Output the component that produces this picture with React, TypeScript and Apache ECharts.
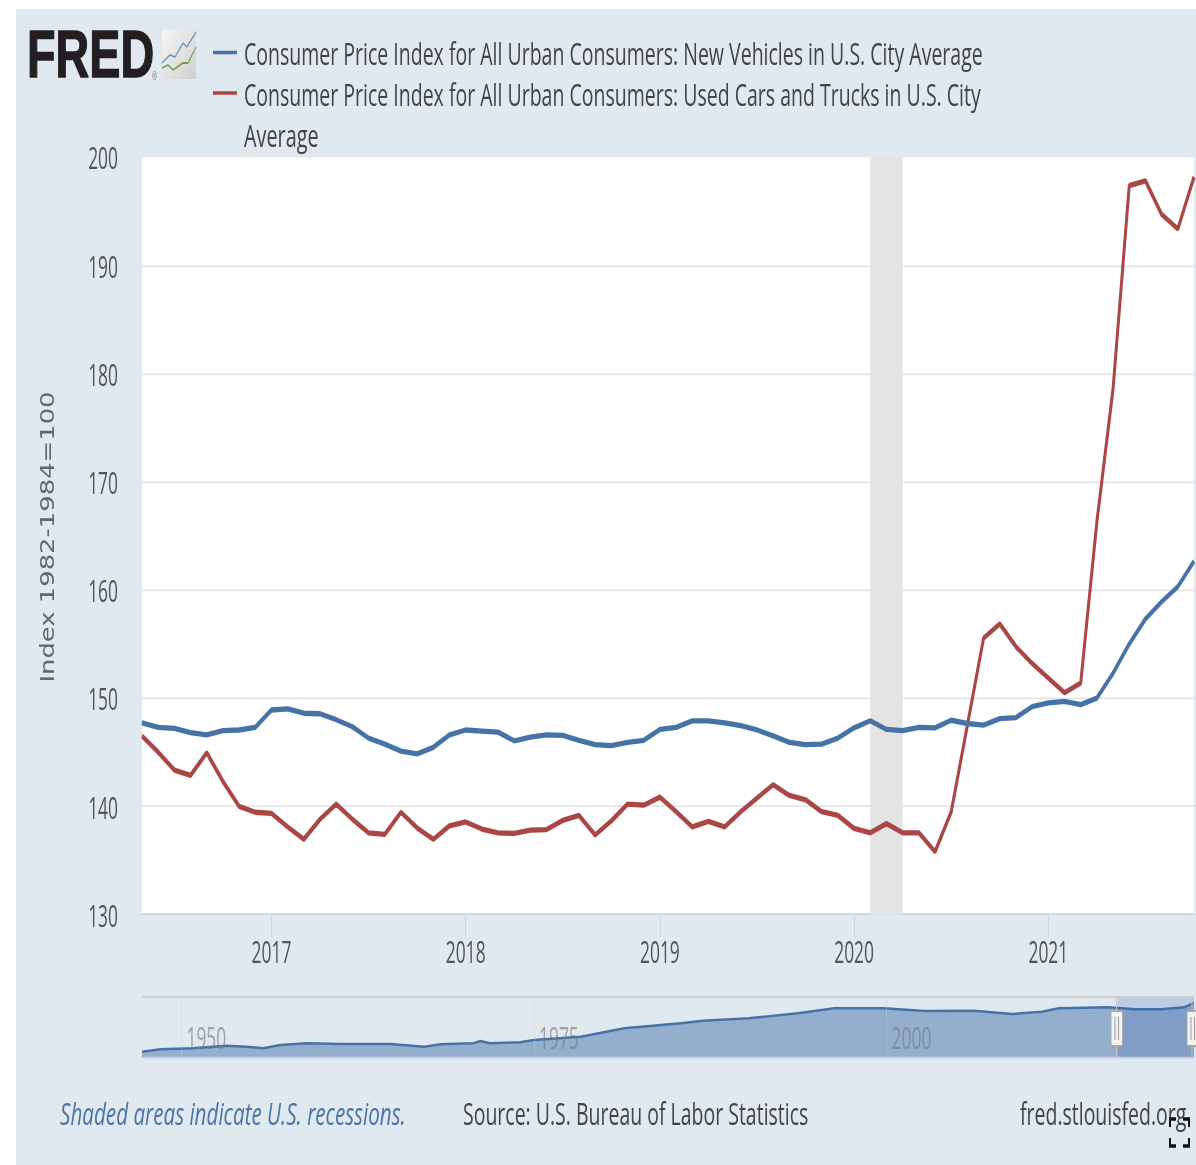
import React, { useEffect, useRef } from "react";
import * as echarts from "echarts";

const months = [
  "2016-05","2016-06","2016-07","2016-08","2016-09","2016-10","2016-11","2016-12",
  "2017-01","2017-02","2017-03","2017-04","2017-05","2017-06","2017-07","2017-08","2017-09","2017-10","2017-11","2017-12",
  "2018-01","2018-02","2018-03","2018-04","2018-05","2018-06","2018-07","2018-08","2018-09","2018-10","2018-11","2018-12",
  "2019-01","2019-02","2019-03","2019-04","2019-05","2019-06","2019-07","2019-08","2019-09","2019-10","2019-11","2019-12",
  "2020-01","2020-02","2020-03","2020-04","2020-05","2020-06","2020-07","2020-08","2020-09","2020-10","2020-11","2020-12",
  "2021-01","2021-02","2021-03","2021-04","2021-05","2021-06","2021-07","2021-08","2021-09","2021-10",
];

const newVehicles = [
  147.7,147.3,147.2,146.8,146.6,147.0,147.05,147.3,148.9,149.0,148.6,148.55,148.0,147.35,146.3,145.75,145.1,144.85,145.45,146.6,
  147.05,146.95,146.85,146.05,146.4,146.6,146.55,146.1,145.7,145.6,145.9,146.1,147.1,147.3,147.9,147.9,147.7,147.45,147.05,146.5,
  145.9,145.7,145.75,146.3,147.25,147.9,147.1,147.0,147.3,147.25,147.95,147.65,147.5,148.1,148.2,149.2,149.55,149.7,149.4,150.0,
  152.3,155.0,157.3,158.9,160.3,162.65,
];

const usedCars = [
  146.5,145.0,143.35,142.85,144.95,142.3,140.0,139.45,139.35,138.1,136.95,138.8,140.2,138.8,137.55,137.4,139.45,138.0,136.95,138.2,
  138.55,137.9,137.55,137.5,137.8,137.85,138.7,139.15,137.35,138.65,140.2,140.1,140.85,139.5,138.1,138.6,138.1,139.5,140.75,142.0,
  141.0,140.6,139.5,139.15,137.95,137.55,138.4,137.55,137.55,135.8,139.5,147.5,155.55,156.85,154.75,153.2,151.85,150.5,151.4,166.3,
  178.6,197.35,197.8,194.7,193.35,198.15,
];

const historyYears = [
  1947.2,1948.5,1950.8,1953.2,1954.6,1955.8,1957,1958.9,1961.3,1964.8,1967.2,1968.4,1970.7,1971.2,1971.9,1974,1975,1978.3,1981.4,
  1985.4,1987,1990.2,1993.7,1996.3,1999.8,2002.7,2006.2,2008.9,2011,2012.2,2015.7,2017.6,2019.5,2021.1,2021.8,
];
const historyValues = [
  41,47,49.5,56,53.5,49.5,57.75,62,60.25,60.25,53.5,59.5,62,67.75,62,64.5,70.25,78.5,99.5,
  112,118.5,124.5,137,149.5,149.5,142.75,143.5,135.25,141,149.5,152,147,147,152,163,
];

const yTicks = { min: 130, max: 200, interval: 10 };
const navYears = [1950, 1975, 2000];
const NEW_NAME = "Consumer Price Index for All Urban Consumers: New Vehicles in U.S. City Average";
const USED_NAME = "Consumer Price Index for All Urban Consumers: Used Cars and Trucks in U.S. City Average";
const USED_LINE1 = "Consumer Price Index for All Urban Consumers: Used Cars and Trucks in U.S. City";
const USED_LINE2 = "Average";
const Y_NAME = "Index 1982-1984=100";
const NOTE = "Shaded areas indicate U.S. recessions.";
const SOURCE = "Source: U.S. Bureau of Labor Statistics";
const SITE = "fred.stlouisfed.org";

const BLUE = "#4572a7";
const RED = "#aa4643";
const SY = 1.77;
const FS = 17.4;
const W = 1196;
const H = 1165;
const TOP_Z = 20;
const Y = (o: number) => o / SY;
const FONT = '"Open Sans", sans-serif';

const pts = (a: number[][]) => a.map(([x, y]) => [x, Y(y)]);
const txt = (t: string, x: number, yo: number, sx: number, extra: any = {}) => ({
  type: "text",
  x,
  y: Y(yo),
  z: TOP_Z,
  scaleX: sx,
  silent: true,
  style: { text: t, fontFamily: FONT, fontSize: FS, fill: "#444", verticalAlign: "middle", align: "left", ...extra },
});
const pl = (a: number[][], stroke: string, lineWidth: number) => ({
  type: "polyline",
  z: TOP_Z,
  silent: true,
  shape: { points: pts(a) },
  style: { stroke, lineWidth, fill: "none" },
});
const bar = (x: number, y1: number, y2: number, stroke = "#999", lineWidth = 1, z = TOP_Z) => ({
  type: "line",
  z,
  silent: true,
  shape: { x1: x, y1: Y(y1), x2: x, y2: Y(y2) },
  style: { stroke, lineWidth },
});
const handle = (x: number, w: number) => ({
  type: "rect",
  z: TOP_Z + 1,
  silent: true,
  shape: { x, y: Y(1011), width: w, height: Y(1046) - Y(1011), r: 1 },
  style: { fill: "#f2f2f2", stroke: "#a9a9a9", lineWidth: 1 },
});

export default function App() {
  const ref = useRef<HTMLDivElement>(null);
  useEffect(() => {
    const chart = echarts.init(ref.current!, undefined, { renderer: "svg" });
    chart.setOption({
      animation: false,
      textStyle: { fontFamily: FONT },
      grid: [
        { left: 142, right: 2, top: Y(157), height: Y(914.5) - Y(157), show: true, backgroundColor: "#fff", borderWidth: 0 },
        { left: 142, right: 2, top: Y(997), height: Y(1057) - Y(997) },
      ],
      xAxis: [
        {
          type: "category",
          gridIndex: 0,
          data: months,
          boundaryGap: false,
          axisLine: { lineStyle: { color: "#ccd6eb", width: 1 } },
          axisTick: {
            alignWithLabel: true,
            length: 13,
            lineStyle: { color: "#ccd6eb", width: 1 },
            interval: (_: number, v: string) => v.endsWith("-01"),
          },
          axisLabel: {
            color: "#555",
            fontSize: FS,
            fontFamily: FONT,
            margin: 12,
            interval: (_: number, v: string) => v.endsWith("-01"),
            formatter: (v: string) => v.slice(0, 4),
          },
          splitLine: { show: false },
        },
        {
          type: "value",
          gridIndex: 1,
          min: 1947.2,
          max: 2021.8,
          z: 10,
          axisLine: { show: true, lineStyle: { color: "#c4d0e0", width: 1 } },
          axisTick: { show: false, customValues: navYears },
          axisLabel: {
            customValues: navYears,
            inside: true,
            color: "rgba(120,120,120,0.62)",
            fontSize: FS,
            fontFamily: FONT,
            margin: 3,
            align: "left",
            padding: [0, 0, 0, 5],
            formatter: (v: number) => String(v),
          },
          splitLine: { show: true, lineStyle: { color: "rgba(205,210,205,0.35)", width: 1 } },
        },
      ],
      yAxis: [
        {
          type: "value",
          gridIndex: 0,
          min: yTicks.min,
          max: yTicks.max,
          interval: yTicks.interval,
          axisLine: { show: false },
          axisTick: { show: false },
          axisLabel: { color: "#555", fontSize: FS, fontFamily: FONT, margin: 24, padding: [0, 0, 2, 0] },
          splitLine: { lineStyle: { color: "#e6e6e6", width: 1 } },
        },
        {
          type: "value",
          gridIndex: 1,
          min: 27.75,
          max: 177.75,
          show: false,
          splitLine: { show: false },
        },
      ],
      series: [
        {
          name: NEW_NAME,
          type: "line",
          data: newVehicles,
          symbol: "none",
          z: 3,
          lineStyle: { color: BLUE, width: 3 },
          xAxisIndex: 0,
          yAxisIndex: 0,
        },
        {
          name: USED_NAME,
          type: "line",
          data: usedCars,
          symbol: "none",
          z: 2,
          lineStyle: { color: RED, width: 3 },
          xAxisIndex: 0,
          yAxisIndex: 0,
          markArea: {
            silent: true,
            z: 1,
            itemStyle: { color: "#e4e4e4" },
            data: [[{ xAxis: "2020-02" }, { xAxis: "2020-04" }]],
          },
        },
        {
          name: "History",
          type: "line",
          xAxisIndex: 1,
          yAxisIndex: 1,
          data: historyYears.map((y, i) => [y, historyValues[i]]),
          symbol: "none",
          z: 2,
          lineStyle: { color: BLUE, width: 1.4 },
          areaStyle: { color: "#94aecd", opacity: 1 },
          markArea: {
            silent: true,
            z: 5,
            itemStyle: { color: "rgba(51,92,173,0.2)" },
            data: [[{ xAxis: 2016.4 }, { xAxis: 2021.8 }]],
          },
        },
      ],
      graphic: [
        {
          type: "rect",
          z: TOP_Z,
          silent: true,
          shape: { x: 162, y: Y(30), width: 34, height: Y(79) - Y(30) },
          style: {
            fill: new echarts.graphic.LinearGradient(0, 0, 1, 1, [
              { offset: 0, color: "#f6f6f6" },
              { offset: 1, color: "#cfcfcf" },
            ]),
          },
        },
        pl([[162, 63], [170, 55], [175, 57], [183, 43], [187, 47], [196, 32]], "#6f97b8", 1),
        pl([[162, 68], [168, 65], [173, 70], [183, 63], [188, 63], [196, 47]], "#6ea04c", 1),
        txt("FRED", 27, 54, 1.23, {
          fontFamily: '"Liberation Sans", sans-serif',
          fontWeight: "bold",
          fontSize: 38,
          fill: "#231f20",
          stroke: "#231f20",
          lineWidth: 0.8,
        }),
        txt("®", 152, 76, 1, { fontSize: 6, fill: "#777" }),
        { type: "line", z: TOP_Z, silent: true, shape: { x1: 213, y1: Y(52.5), x2: 237, y2: Y(52.5) }, style: { stroke: BLUE, lineWidth: 2 } },
        { type: "line", z: TOP_Z, silent: true, shape: { x1: 213, y1: Y(93), x2: 237, y2: Y(93) }, style: { stroke: RED, lineWidth: 2 } },
        txt(NEW_NAME, 244, 53, 1.122),
        txt(USED_LINE1, 244, 94, 1.122),
        txt(USED_LINE2, 244, 135, 1.14),
        {
          type: "text",
          z: TOP_Z,
          silent: true,
          x: 47,
          y: Y(537),
          rotation: Math.PI / 2,
          scaleY: 1.35,
          style: { text: Y_NAME, fontFamily: '"DejaVu Sans", sans-serif', fontSize: 14.6, fill: "#666", align: "center", verticalAlign: "middle" },
        },
        {
          type: "line",
          z: TOP_Z,
          silent: true,
          shape: { x1: 142, y1: Y(997), x2: 1194, y2: Y(997) },
          style: { stroke: "#cfcfcb", lineWidth: 1.2 },
        },
        bar(1116.5, 997, 1057, "#c0c0c0", 1),
        bar(1192, 997, 1057, "#c0c0c0", 1),
        handle(1111, 11.5),
        bar(1115, 1017, 1040, "#999", 1, TOP_Z + 2),
        bar(1118.5, 1017, 1040, "#999", 1, TOP_Z + 2),
        handle(1187, 12),
        bar(1191, 1017, 1040, "#999", 1, TOP_Z + 2),
        bar(1194.5, 1017, 1040, "#999", 1, TOP_Z + 2),
        txt(NOTE, 60, 1113, 1.186, { fontStyle: "italic", fill: "#4a74a8" }),
        txt(SOURCE, 463, 1113, 1.12, { fill: "#444" }),
        txt(SITE, 1020, 1113, 1.12, { fill: "#444" }),
        pl([[1170, 1127], [1170, 1119], [1176, 1119]], "#111", 2),
        pl([[1183, 1119], [1189, 1119], [1189, 1127]], "#111", 2),
        pl([[1170, 1138], [1170, 1146], [1176, 1146]], "#111", 2),
        pl([[1183, 1146], [1189, 1146], [1189, 1138]], "#111", 2),
      ],
    });
    return () => chart.dispose();
  }, []);

  return (
    <div style={{ position: "absolute", left: 0, top: 0, width: W, height: H, overflow: "hidden", background: "#fff" }}>
      <div style={{ position: "absolute", left: 16, top: 9, width: W - 16, height: H - 9, background: "#e1e9f0" }} />
      <div
        ref={ref}
        style={{
          position: "absolute",
          left: 0,
          top: 0,
          width: W,
          height: H / SY,
          transform: `scale(1, ${SY})`,
          transformOrigin: "0 0",
          filter: "blur(0.45px)",
        }}
      />
    </div>
  );
}
